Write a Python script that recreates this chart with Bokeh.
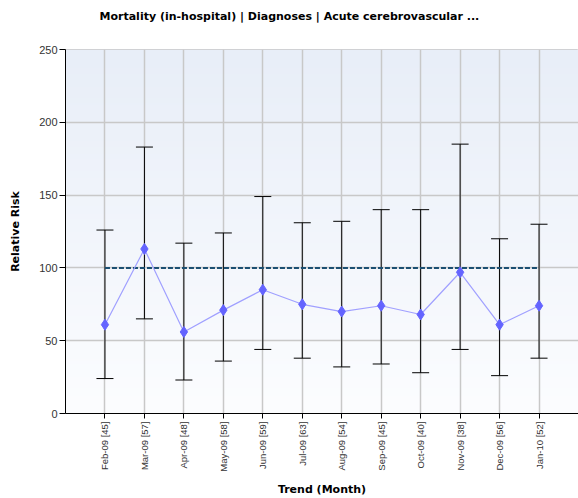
import numpy as np
from bokeh.plotting import figure
from bokeh.models import Range1d, FixedTicker, Whisker, TeeHead, ColumnDataSource, Title
from bokeh.embed import file_html
from bokeh.resources import INLINE

months = ["Feb-09", "Mar-09", "Apr-09", "May-09", "Jun-09", "Jul-09",
          "Aug-09", "Sep-09", "Oct-09", "Nov-09", "Dec-09", "Jan-10"]
counts = [45, 57, 48, 58, 59, 63, 54, 45, 40, 38, 56, 52]
relative_risk = [61, 113, 56, 71, 85, 75, 70, 74, 68, 97, 61, 74]
lower_ci = [24, 65, 23, 36, 44, 38, 32, 34, 28, 44, 26, 38]
upper_ci = [126, 183, 117, 124, 149, 131, 132, 140, 140, 185, 120, 130]
benchmark = 100
y_ticks = [0, 50, 100, 150, 200, 250]

labels = [f"{m} [{c}]" for m, c in zip(months, counts)]
xs = list(range(len(months)))

src = ColumnDataSource(dict(x=xs, rr=relative_risk, lo=lower_ci, hi=upper_ci))

p = figure(width=578, height=498, output_backend="svg", toolbar_location=None,
           x_range=Range1d(-1, 12.0), y_range=Range1d(0, 250),
           min_border_left=65, min_border_right=0, min_border_top=49,
           min_border_bottom=84)

# background gradient
n = 256
t = np.linspace(0, 1, n)  # 0 bottom -> 1 top
r = (252 + (232 - 252) * t).astype(np.uint32)
g = (253 + (238 - 253) * t).astype(np.uint32)
b = (255 + (248 - 255) * t).astype(np.uint32)
img = np.empty((n, 1), dtype=np.uint32)
view = img.view(dtype=np.uint8).reshape((n, 1, 4))
view[:, 0, 0] = r
view[:, 0, 1] = g
view[:, 0, 2] = b
view[:, 0, 3] = 255
p.image_rgba(image=[img], x=-1, y=0, dw=13, dh=250, level="image")

p.outline_line_color = "#c8c8c8"
p.background_fill_color = "white"
p.border_fill_color = "white"

# spacer between title and frame
p.add_layout(Title(text=" ", text_font_size="9px"), "above")

# title
p.title.text = "Mortality (in-hospital) | Diagnoses | Acute cerebrovascular ..."
p.title.text_font = "DejaVu Sans"
p.title.text_font_size = "11px"
p.title.text_font_style = "bold"
p.title.text_color = "black"
p.title.align = "left"
p.title.offset = 34

# grids
p.xgrid.ticker = FixedTicker(ticks=xs)
p.xgrid.grid_line_color = "#c8c8c8"
p.xgrid.grid_line_width = 1.5
p.ygrid.ticker = FixedTicker(ticks=y_ticks)
p.ygrid.grid_line_color = "#c8c8c8"
p.ygrid.grid_line_width = 1.5

# axes
p.xaxis.ticker = FixedTicker(ticks=xs)
p.xaxis.major_label_overrides = {i: lab for i, lab in enumerate(labels)}
p.xaxis.major_label_orientation = np.pi / 2
p.xaxis.major_label_text_font = "Liberation Sans"
p.xaxis.major_label_text_font_size = "9.5px"
p.xaxis.major_label_text_color = "#333333"
p.xaxis.axis_label = "Trend (Month)"
p.xaxis.minor_tick_line_color = None
p.xaxis.major_tick_out = 5
p.xaxis.major_tick_in = 0
p.xaxis.major_label_standoff = 3
p.xaxis.axis_label_standoff = 8

p.yaxis.ticker = FixedTicker(ticks=y_ticks)
p.yaxis.axis_label = "Relative Risk"
p.yaxis.major_label_text_font = "Liberation Sans"
p.yaxis.major_label_text_font_size = "11px"
p.yaxis.major_label_text_color = "#333333"
p.yaxis.minor_tick_line_color = None
p.yaxis.major_tick_out = 6
p.yaxis.major_tick_in = 0
p.yaxis.major_label_standoff = 2
p.yaxis.axis_label_standoff = 14

for ax in (p.xaxis, p.yaxis):
    ax.axis_label_text_font = "DejaVu Sans"
    ax.axis_label_text_font_size = "11px"
    ax.axis_label_text_font_style = "bold"
    ax.axis_label_text_color = "black"
    ax.axis_line_color = "black"
    ax.major_tick_line_color = "black"

# error bars
w = Whisker(source=src, base="x", upper="hi", lower="lo", dimension="height",
            line_color="black", line_width=1,
            upper_head=TeeHead(size=17, line_color="black", line_width=1),
            lower_head=TeeHead(size=17, line_color="black", line_width=1))
p.add_layout(w)

# benchmark line
p.line(x=[xs[0], xs[-1]], y=[benchmark, benchmark], line_color="#1b4f72",
       line_width=2, line_dash="5 2")

# series
p.line(x="x", y="rr", source=src, line_color="#a0a0ff", line_width=1.2)
p.scatter(x="x", y="rr", source=src, marker="diamond", size=11,
          fill_color="#6464ff", line_color="#6464ff")

open("out.html", "w").write(file_html(p, INLINE))
